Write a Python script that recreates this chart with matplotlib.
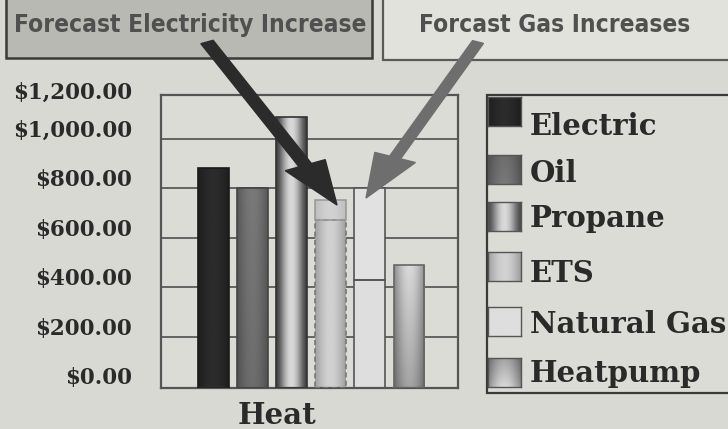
import numpy as np
import matplotlib
matplotlib.use("Agg")
import matplotlib.pyplot as plt
from matplotlib.patches import Rectangle, FancyArrow

categories = ["Electric", "Oil", "Propane", "ETS", "Natural Gas", "Heatpump"]
current_cost = [880, 800, 1087, 670, 428, 488]
forecast_increase = [0, 0, 0, 82, 374, 0]
y_ticks = [0, 200, 400, 600, 800, 1000, 1200]
y_tick_labels = ["$0.00", "$200.00", "$400.00", "$600.00", "$800.00", "$1,000.00", "$1,200.00"]
group_label = "Heat"
button_labels = ["Forecast Electricity Increase", "Forcast Gas Increases"]

BG = "#d9d9d3"
W, H = 728, 429
fig = plt.figure(figsize=(W / 100, H / 100), dpi=100, facecolor=BG)

def fx(px):
    return px / W

def fy(py):
    return 1 - py / H

AX_TOP, AX_BOT = 95, 388
ax = fig.add_axes([fx(161), fy(AX_BOT), fx(458) - fx(161), fy(AX_TOP) - fy(AX_BOT)])
ax.set_facecolor("#dcdcd6")
YLIM = (-7, 1176)
ax.set_xlim(-1.33, 6.25)
ax.set_ylim(*YLIM)
for s in ax.spines.values():
    s.set_color("#555555")
    s.set_linewidth(1.6)
ax.set_yticks([])
ax.set_xticks([])
for v in y_ticks[1:-1]:
    ax.axhline(v, color="#5a5a5a", lw=1.3, zorder=0.5)

serif = ["DejaVu Serif"]
fig.canvas.draw()
for v, lab in zip(y_ticks, y_tick_labels):
    ypx = H - ax.transData.transform((0, v))[1]
    ypx = max(ypx, AX_TOP + 6) - 8
    fig.text(fx(132), fy(ypx), lab, ha="right", va="center",
             family=serif, weight="bold", fontsize=15.5, color="#2a2a2a")

x = np.arange(len(categories))
width = 0.79

def grad(kind, n=64):
    t = np.linspace(0, 1, n)
    if kind == "black":
        h = 0.12 + 0.05 * np.sin(np.pi * t)
        v = np.ones(n)
    elif kind == "oil":
        h = 0.33 + 0.12 * np.sin(np.pi * t)
        v = np.linspace(0.95, 1.05, n)
    elif kind == "cyl":
        h = 0.25 + 0.6 * np.sin(np.pi * t) ** 1.5
        v = np.ones(n)
    elif kind == "ets":
        h = 0.62 + 0.2 * np.sin(np.pi * t)
        v = np.ones(n)
    elif kind == "white":
        h = 0.87 * np.ones(n)
        v = np.ones(n)
    else:
        h = 0.55 + 0.3 * np.sin(np.pi * t)
        v = np.linspace(0.75, 1.0, n)
    img = np.clip(np.outer(v, h), 0, 1)
    return img

kinds = ["black", "oil", "cyl", "ets", "white", "hp"]
edge = ["#1a1a1a", "#444444", "#333333", "#777777", "#555555", "#666666"]
bars = ax.bar(x, current_cost, width, bottom=YLIM[0], color="none", edgecolor=edge, lw=1.2, zorder=3)
for b, v in zip(bars, current_cost):
    b.set_height(v - YLIM[0])
bars[3].set_linestyle((0, (3, 2)))
for b, k in zip(bars, kinds):
    img = grad(k)
    im = ax.imshow(img, cmap="gray", vmin=0, vmax=1, aspect="auto",
                   extent=[b.get_x(), b.get_x() + b.get_width(), b.get_y(), b.get_y() + b.get_height()],
                   origin="lower", zorder=2, interpolation="bilinear")
    im.set_clip_path(b)

inc = ax.bar(x, forecast_increase, width, bottom=current_cost, color="none",
             edgecolor=["none", "none", "none", "#9a9a9a", "#555555", "none"],
             lw=1.2, zorder=3)
for b, k in zip(inc, kinds):
    if b.get_height() <= 0:
        continue
    n = 64
    t = np.linspace(0, 1, n)
    h = (0.74 + 0.08 * np.sin(np.pi * t)) if k == "ets" else 0.88 * np.ones(n)
    img = np.tile(h, (2, 1))
    im = ax.imshow(img, cmap="gray", vmin=0, vmax=1, aspect="auto",
                   extent=[b.get_x(), b.get_x() + b.get_width(), b.get_y(), b.get_y() + b.get_height()],
                   origin="lower", zorder=2)
    im.set_clip_path(b)
ax.set_xlim(-1.33, 6.25)
ax.set_ylim(*YLIM)

fig.text(fx(277), fy(415), group_label, ha="center", va="center",
         family=serif, weight="bold", fontsize=21, color="#2a2a2a")

# legend
leg_rect = Rectangle((fx(487), fy(393)), fx(260), fy(95) - fy(393),
                     transform=fig.transFigure, facecolor="#dcdcd6",
                     edgecolor="#3a3a3a", lw=1.6, zorder=-1)
fig.patches.append(leg_rect)
sw_tops = [97, 155, 202, 252, 307, 358]
baselines = [135, 182, 227, 282, 333, 382]
for i, (lab, k) in enumerate(zip(categories, kinds)):
    top = sw_tops[i]
    sax = fig.add_axes([fx(488), fy(top + 29), fx(33), fy(top) - fy(top + 29)])
    sax.set_zorder(2)
    if k == "cyl":
        simg = np.outer(np.ones(8), 0.3 + 0.55 * np.sin(np.pi * np.linspace(0, 1, 64)) ** 1.5)
    else:
        simg = grad(k)
    sax.imshow(simg, cmap="gray", vmin=0, vmax=1, aspect="auto", interpolation="bilinear")
    sax.set_xticks([]); sax.set_yticks([])
    for s in sax.spines.values():
        s.set_color("#555555"); s.set_linewidth(1)
    fig.text(fx(530), fy(baselines[i]), lab, ha="left", va="baseline",
             family=serif, weight="bold", fontsize=21, color="#2a2a2a")

# buttons
fig.patches.append(Rectangle((fx(6), fy(58)), fx(366), fy(-5) - fy(58),
                             transform=fig.transFigure, facecolor="#b9b9b4",
                             edgecolor="#3a3a3a", lw=1.8, zorder=-1))
fig.patches.append(Rectangle((fx(383), fy(60)), fx(360), fy(-5) - fy(60),
                             transform=fig.transFigure, facecolor="#e2e2dd",
                             edgecolor="#5a5a5a", lw=1.6, zorder=-1))
bfont = dict(family=["DejaVu Sans"], fontstretch="condensed", weight="bold",
             fontsize=17.6, color="#505050")
fig.text(fx(190), fy(25), button_labels[0], ha="center", va="center", **bfont)
fig.text(fx(555), fy(25), button_labels[1], ha="center", va="center", **bfont)

# arrows
def arrow(x0, y0, x1, y1, color, w):
    fig.patches.append(FancyArrow(fx(x0), fy(y0), fx(x1) - fx(x0), fy(y1) - fy(y0),
                                  width=w / H, head_width=26 / H, head_length=44 / H,
                                  length_includes_head=True, transform=fig.transFigure,
                                  color=color, zorder=10))

arrow(207, 42, 337, 205, "#2b2b2b", 8)
arrow(478, 42, 366, 198, "#6e6e6e", 7)

fig.savefig("out.png", dpi=100, facecolor=BG)
